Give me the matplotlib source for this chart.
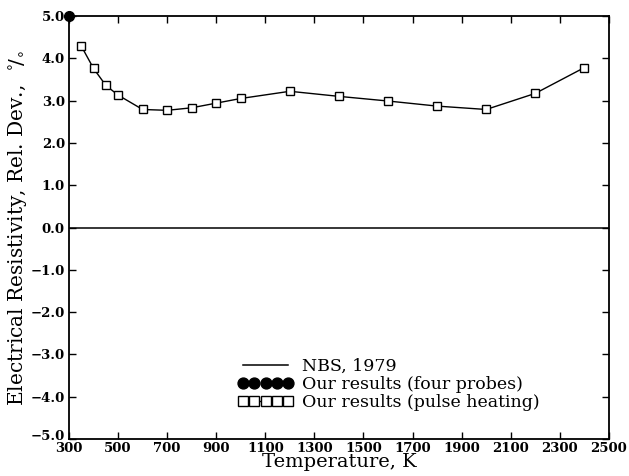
import numpy as np
import matplotlib
matplotlib.use("Agg")
import matplotlib.pyplot as plt
from matplotlib.transforms import ScaledTranslation

# NBS, 1979 reference line (zero deviation)
nbs_t = [300, 2500]
nbs_dev = [0.0, 0.0]

# four-probe result
probe_t = [300]
probe_dev = [5.0]

# pulse heating results
pulse_t = [350, 400, 450, 500, 600, 700, 800, 900, 1000, 1200, 1400, 1600, 1800, 2000, 2200, 2400]
pulse_dev = [4.29, 3.76, 3.36, 3.13, 2.79, 2.77, 2.83, 2.94, 3.05, 3.22, 3.10, 2.99, 2.87, 2.79, 3.17, 3.78]

xticks = np.arange(300, 2501, 200)
yticks = np.arange(-5, 5.01, 1.0)

plt.rcParams['font.family'] = 'DejaVu Serif'
fig = plt.figure(figsize=(6.29, 4.76), dpi=100)
ax = fig.add_axes([0.1097, 0.0777, 0.8583, 0.8887])

ax.plot(nbs_t, nbs_dev, color='black', lw=1.1, label='NBS, 1979')
ax.plot(probe_t, probe_dev, 'o', color='black', ms=7, clip_on=False, zorder=5,
        label='Our results (four probes)')
ax.plot(pulse_t, pulse_dev, '-s', color='black', lw=1.0, ms=6.3, mfc='white', mec='black',
        mew=1.0, label='Our results (pulse heating)')

ax.set_xlim(300, 2500)
ax.set_ylim(-5, 5)
ax.set_xticks(xticks)
ax.set_yticks(yticks)
ax.set_xticklabels([str(t) for t in xticks], fontweight='bold', fontsize=9.5)
ax.set_yticklabels([('%.1f' % v).replace('-', '\u2212') for v in yticks],
                   fontweight='bold', fontsize=9.5)
ax.tick_params(direction='in', length=5, width=1, top=True, right=True, pad=3)
ax.tick_params(axis='x', pad=2)
for s in ax.spines.values():
    s.set_linewidth(1.3)

# lift the bottom y label a little, as in the original
lab = ax.get_yticklabels()[0]
lab.set_transform(lab.get_transform() + ScaledTranslation(0, 3 / 72, fig.dpi_scale_trans))

ax.set_xlabel('Temperature, K', fontsize=14, labelpad=-1)
ax.set_ylabel(r'Electrical Resistivity, Rel. Dev.,  $^{\circ}\!/_{\circ}$', fontsize=14.5, labelpad=1)

ax.legend(loc='lower left', bbox_to_anchor=(0.3, 0.05), frameon=False, numpoints=5,
          fontsize=12.5, handlelength=3.2, handletextpad=0.5, labelspacing=0.05,
          borderaxespad=0, markerscale=1.12)

fig.savefig('out.png', dpi=100)
